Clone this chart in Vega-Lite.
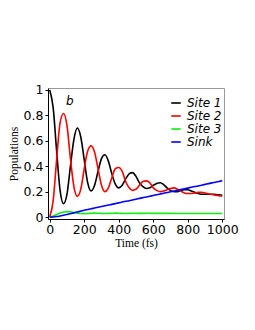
{
  "$schema": "https://vega.github.io/schema/vega-lite/v6.json",
  "width": 176,
  "height": 131,
  "autosize": "none",
  "padding": {"left": 48, "top": 88, "right": 31, "bottom": 111},
  "background": "white",
  "title": {
    "text": "b",
    "orient": "top",
    "anchor": "start",
    "frame": "group",
    "offset": 0,
    "dx": 18,
    "dy": 29,
    "baseline": "middle",
    "font": "DejaVu Sans",
    "fontStyle": "italic",
    "fontWeight": "normal",
    "fontSize": 12,
    "color": "black"
  },
  "config": {
    "view": {"stroke": "#999999", "strokeWidth": 1},
    "axis": {
      "grid": false,
      "domainColor": "black",
      "tickColor": "black",
      "labelFont": "DejaVu Sans",
      "labelFontSize": 12.5,
      "labelColor": "black",
      "titleFont": "Liberation Serif",
      "titleFontSize": 11.5,
      "titleFontWeight": "normal",
      "titleColor": "black",
      "tickSize": 3,
      "labelOverlap": false
    }
  },
  "data": {"values": [
      {"t":0,"s":"Site 1","p":1.0},{"t":20,"s":"Site 1","p":0.86},{"t":40,"s":"Site 1","p":0.52},{"t":60,"s":"Site 1","p":0.21},{"t":80,"s":"Site 1","p":0.105},{"t":100,"s":"Site 1","p":0.18},{"t":120,"s":"Site 1","p":0.40},{"t":140,"s":"Site 1","p":0.61},{"t":160,"s":"Site 1","p":0.70},{"t":180,"s":"Site 1","p":0.63},{"t":200,"s":"Site 1","p":0.45},{"t":220,"s":"Site 1","p":0.27},{"t":240,"s":"Site 1","p":0.205},{"t":260,"s":"Site 1","p":0.25},{"t":280,"s":"Site 1","p":0.36},{"t":300,"s":"Site 1","p":0.46},{"t":320,"s":"Site 1","p":0.49},{"t":340,"s":"Site 1","p":0.44},{"t":360,"s":"Site 1","p":0.34},{"t":380,"s":"Site 1","p":0.26},{"t":400,"s":"Site 1","p":0.23},{"t":420,"s":"Site 1","p":0.25},{"t":440,"s":"Site 1","p":0.30},{"t":460,"s":"Site 1","p":0.34},{"t":480,"s":"Site 1","p":0.35},{"t":500,"s":"Site 1","p":0.32},{"t":520,"s":"Site 1","p":0.27},{"t":540,"s":"Site 1","p":0.24},{"t":560,"s":"Site 1","p":0.225},{"t":580,"s":"Site 1","p":0.23},{"t":600,"s":"Site 1","p":0.25},{"t":620,"s":"Site 1","p":0.265},{"t":640,"s":"Site 1","p":0.27},{"t":660,"s":"Site 1","p":0.255},{"t":680,"s":"Site 1","p":0.23},{"t":700,"s":"Site 1","p":0.21},{"t":720,"s":"Site 1","p":0.20},{"t":740,"s":"Site 1","p":0.20},{"t":760,"s":"Site 1","p":0.21},{"t":780,"s":"Site 1","p":0.215},{"t":800,"s":"Site 1","p":0.215},{"t":820,"s":"Site 1","p":0.205},{"t":840,"s":"Site 1","p":0.195},{"t":860,"s":"Site 1","p":0.185},{"t":880,"s":"Site 1","p":0.18},{"t":900,"s":"Site 1","p":0.18},{"t":920,"s":"Site 1","p":0.18},{"t":940,"s":"Site 1","p":0.18},{"t":960,"s":"Site 1","p":0.178},{"t":980,"s":"Site 1","p":0.175},{"t":1000,"s":"Site 1","p":0.172},
      {"t":0,"s":"Site 2","p":0.0},{"t":20,"s":"Site 2","p":0.13},{"t":40,"s":"Site 2","p":0.45},{"t":60,"s":"Site 2","p":0.74},{"t":80,"s":"Site 2","p":0.815},{"t":100,"s":"Site 2","p":0.72},{"t":120,"s":"Site 2","p":0.46},{"t":140,"s":"Site 2","p":0.24},{"t":160,"s":"Site 2","p":0.163},{"t":180,"s":"Site 2","p":0.22},{"t":200,"s":"Site 2","p":0.38},{"t":220,"s":"Site 2","p":0.52},{"t":240,"s":"Site 2","p":0.56},{"t":260,"s":"Site 2","p":0.51},{"t":280,"s":"Site 2","p":0.38},{"t":300,"s":"Site 2","p":0.25},{"t":320,"s":"Site 2","p":0.20},{"t":340,"s":"Site 2","p":0.23},{"t":360,"s":"Site 2","p":0.31},{"t":380,"s":"Site 2","p":0.38},{"t":400,"s":"Site 2","p":0.39},{"t":420,"s":"Site 2","p":0.36},{"t":440,"s":"Site 2","p":0.28},{"t":460,"s":"Site 2","p":0.23},{"t":480,"s":"Site 2","p":0.21},{"t":500,"s":"Site 2","p":0.22},{"t":520,"s":"Site 2","p":0.25},{"t":540,"s":"Site 2","p":0.28},{"t":560,"s":"Site 2","p":0.285},{"t":580,"s":"Site 2","p":0.27},{"t":600,"s":"Site 2","p":0.23},{"t":620,"s":"Site 2","p":0.21},{"t":640,"s":"Site 2","p":0.20},{"t":660,"s":"Site 2","p":0.205},{"t":680,"s":"Site 2","p":0.215},{"t":700,"s":"Site 2","p":0.225},{"t":720,"s":"Site 2","p":0.23},{"t":740,"s":"Site 2","p":0.22},{"t":760,"s":"Site 2","p":0.205},{"t":780,"s":"Site 2","p":0.19},{"t":800,"s":"Site 2","p":0.185},{"t":820,"s":"Site 2","p":0.185},{"t":840,"s":"Site 2","p":0.19},{"t":860,"s":"Site 2","p":0.195},{"t":880,"s":"Site 2","p":0.195},{"t":900,"s":"Site 2","p":0.19},{"t":920,"s":"Site 2","p":0.183},{"t":940,"s":"Site 2","p":0.177},{"t":960,"s":"Site 2","p":0.172},{"t":980,"s":"Site 2","p":0.168},{"t":1000,"s":"Site 2","p":0.166},
      {"t":0,"s":"Site 3","p":0.0},{"t":20,"s":"Site 3","p":0.008},{"t":40,"s":"Site 3","p":0.02},{"t":60,"s":"Site 3","p":0.032},{"t":80,"s":"Site 3","p":0.04},{"t":100,"s":"Site 3","p":0.043},{"t":120,"s":"Site 3","p":0.041},{"t":140,"s":"Site 3","p":0.036},{"t":160,"s":"Site 3","p":0.031},{"t":180,"s":"Site 3","p":0.028},{"t":200,"s":"Site 3","p":0.027},{"t":220,"s":"Site 3","p":0.028},{"t":240,"s":"Site 3","p":0.03},{"t":260,"s":"Site 3","p":0.031},{"t":280,"s":"Site 3","p":0.03},{"t":300,"s":"Site 3","p":0.029},{"t":320,"s":"Site 3","p":0.028},{"t":340,"s":"Site 3","p":0.029},{"t":360,"s":"Site 3","p":0.03},{"t":380,"s":"Site 3","p":0.031},{"t":400,"s":"Site 3","p":0.03},{"t":420,"s":"Site 3","p":0.029},{"t":440,"s":"Site 3","p":0.028},{"t":460,"s":"Site 3","p":0.029},{"t":480,"s":"Site 3","p":0.03},{"t":500,"s":"Site 3","p":0.03},{"t":520,"s":"Site 3","p":0.029},{"t":540,"s":"Site 3","p":0.029},{"t":560,"s":"Site 3","p":0.03},{"t":580,"s":"Site 3","p":0.03},{"t":600,"s":"Site 3","p":0.029},{"t":620,"s":"Site 3","p":0.029},{"t":640,"s":"Site 3","p":0.029},{"t":660,"s":"Site 3","p":0.029},{"t":680,"s":"Site 3","p":0.029},{"t":700,"s":"Site 3","p":0.029},{"t":720,"s":"Site 3","p":0.028},{"t":740,"s":"Site 3","p":0.028},{"t":760,"s":"Site 3","p":0.028},{"t":780,"s":"Site 3","p":0.028},{"t":800,"s":"Site 3","p":0.028},{"t":820,"s":"Site 3","p":0.028},{"t":840,"s":"Site 3","p":0.028},{"t":860,"s":"Site 3","p":0.028},{"t":880,"s":"Site 3","p":0.028},{"t":900,"s":"Site 3","p":0.028},{"t":920,"s":"Site 3","p":0.028},{"t":940,"s":"Site 3","p":0.028},{"t":960,"s":"Site 3","p":0.028},{"t":980,"s":"Site 3","p":0.028},{"t":1000,"s":"Site 3","p":0.028},
      {"t":0,"s":"Sink","p":0.0},{"t":20,"s":"Sink","p":0.001},{"t":40,"s":"Sink","p":0.004},{"t":60,"s":"Sink","p":0.009},{"t":80,"s":"Sink","p":0.015},{"t":100,"s":"Sink","p":0.021},{"t":120,"s":"Sink","p":0.027},{"t":140,"s":"Sink","p":0.033},{"t":160,"s":"Sink","p":0.04},{"t":180,"s":"Sink","p":0.047},{"t":200,"s":"Sink","p":0.054},{"t":220,"s":"Sink","p":0.06},{"t":240,"s":"Sink","p":0.066},{"t":260,"s":"Sink","p":0.071},{"t":280,"s":"Sink","p":0.077},{"t":300,"s":"Sink","p":0.083},{"t":320,"s":"Sink","p":0.089},{"t":340,"s":"Sink","p":0.095},{"t":360,"s":"Sink","p":0.1},{"t":380,"s":"Sink","p":0.106},{"t":400,"s":"Sink","p":0.112},{"t":420,"s":"Sink","p":0.118},{"t":440,"s":"Sink","p":0.124},{"t":460,"s":"Sink","p":0.129},{"t":480,"s":"Sink","p":0.135},{"t":500,"s":"Sink","p":0.141},{"t":520,"s":"Sink","p":0.147},{"t":540,"s":"Sink","p":0.153},{"t":560,"s":"Sink","p":0.158},{"t":580,"s":"Sink","p":0.164},{"t":600,"s":"Sink","p":0.17},{"t":620,"s":"Sink","p":0.176},{"t":640,"s":"Sink","p":0.182},{"t":660,"s":"Sink","p":0.187},{"t":680,"s":"Sink","p":0.193},{"t":700,"s":"Sink","p":0.199},{"t":720,"s":"Sink","p":0.205},{"t":740,"s":"Sink","p":0.211},{"t":760,"s":"Sink","p":0.216},{"t":780,"s":"Sink","p":0.222},{"t":800,"s":"Sink","p":0.228},{"t":820,"s":"Sink","p":0.234},{"t":840,"s":"Sink","p":0.24},{"t":860,"s":"Sink","p":0.245},{"t":880,"s":"Sink","p":0.251},{"t":900,"s":"Sink","p":0.257},{"t":920,"s":"Sink","p":0.263},{"t":940,"s":"Sink","p":0.269},{"t":960,"s":"Sink","p":0.274},{"t":980,"s":"Sink","p":0.28},{"t":1000,"s":"Sink","p":0.286}
  ]},
  "mark": {"type": "line", "interpolate": "monotone", "strokeWidth": 1.6},
  "encoding": {
    "x": {
      "field": "t", "type": "quantitative",
      "scale": {"domain": [-10, 1010], "nice": false, "zero": false},
      "axis": {
        "title": "Time (fs)",
        "values": [0,200,400,600,800,1000],
        "format": "d",
        "labelPadding": 1,
        "titlePadding": 2,
        "labelFlush": false,
        "labelOverlap": false
      }
    },
    "y": {
      "field": "p", "type": "quantitative",
      "scale": {"domain": [-0.015, 1.015], "nice": false, "zero": false},
      "axis": {
        "title": "Populations",
        "values": [0,0.2,0.4,0.6,0.8,1],
        "format": "~g",
        "labelPadding": 2,
        "titlePadding": 4,
        "labelFlush": false,
        "labelOverlap": false
      }
    },
    "color": {
      "field": "s", "type": "nominal",
      "scale": {"domain": ["Site 1","Site 2","Site 3","Sink"], "range": ["#000000","#ff0000","#11ee11","#0000ff"]},
      "legend": {
        "title": null,
        "orient": "none",
        "legendX": 122,
        "legendY": 9,
        "symbolType": "stroke",
        "symbolSize": 90,
        "symbolStrokeWidth": 1.6,
        "labelFont": "DejaVu Sans",
        "labelFontStyle": "italic",
        "labelFontSize": 12,
        "labelColor": "black",
        "labelOffset": 5,
        "rowPadding": 1
      }
    }
  }
}
